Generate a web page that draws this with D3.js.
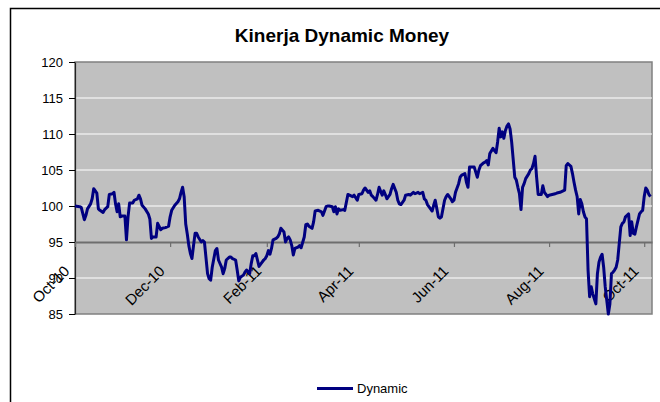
<!DOCTYPE html>
<html><head><meta charset="utf-8">
<script src="https://cdn.jsdelivr.net/npm/d3@7"></script>
<style>body{margin:0;background:#fff}svg{display:block;font-family:"Liberation Sans",Arial,sans-serif}</style>
</head><body><svg id="c" width="660" height="402"></svg>
<script>
const title = "Kinerja Dynamic Money";
const seriesName = "Dynamic";
const startDate = "2010-10-01";
const endDate = "2011-10-06";
const yTicks = [85, 90, 95, 100, 105, 110, 115, 120];
const xTickDates = ["2010-10-01","2010-12-01","2011-02-01","2011-04-01","2011-06-01","2011-08-01","2011-10-01"];
const axisCross = 95;
// days since startDate
const dayOffsets = [
0,3,4,6,7,8,10,11,12,14,15,16,18,19,21,22,24,25,26,27,
28,29,30,32,33,34,35,37,38,40,41,42,43,45,47,48,49,50,52,53,
55,56,58,60,61,62,64,66,67,68,69,70,71,72,73,74,75,76,77,78,
79,81,82,83,85,86,87,88,90,91,92,94,95,96,97,99,100,101,103,104,
105,106,108,109,110,112,113,114,115,116,117,118,120,121,122,123,124,125,126,127,
129,130,131,132,134,135,136,137,138,139,140,141,143,144,145,147,148,149,150,152,
153,154,156,157,158,159,161,162,163,165,166,167,168,169,170,172,173,175,176,178,
179,181,182,184,185,186,188,189,190,191,193,194,195,197,198,199,200,202,203,204,
206,207,208,209,211,212,214,215,217,218,220,221,223,224,225,226,228,229,230,231,
233,234,235,237,238,239,241,242,243,244,246,247,248,250,251,252,253,255,256,258,
259,260,262,263,264,265,266,268,269,270,271,272,273,274,275,276,277,278,279,280,
282,283,284,285,286,287,288,289,291,292,293,294,295,296,297,298,299,300,301,302,
303,304,306,308,309,311,313,314,315,316,318,319,320,321,322,323,324,325,326,327,
328,329,330,331,332,334,335,336,337,338,339,340,342,343,344,345,346,347,348,350,
351,352,353,355,356,357,358,359,360,362,363,364,365,366,367,368,369
];
const values = [
100.0,99.9,99.8,98.1,98.7,99.6,100.3,101.0,102.4,101.8,99.6,99.4,99.1,99.5,99.9,101.6,101.7,101.9,100.3,99.2,
100.3,98.5,98.6,98.6,95.3,98.5,100.4,100.4,100.8,101.0,101.5,101.0,100.1,99.6,98.9,98.2,95.5,95.7,95.7,97.6,
96.7,96.9,97.0,97.2,98.5,99.4,100.1,100.6,101.0,101.9,102.6,101.3,97.5,96.1,94.5,93.4,92.7,94.5,96.2,96.2,
95.7,95.0,95.2,95.0,90.6,89.9,89.7,91.5,93.8,94.1,92.5,91.5,90.6,91.3,92.5,92.9,92.9,92.7,92.5,91.1,
89.6,90.1,90.4,90.8,91.1,90.6,92.0,93.1,93.1,93.4,92.5,91.6,92.2,92.5,92.7,93.1,93.8,93.3,94.1,95.3,
95.5,95.7,96.1,96.9,96.4,95.0,95.5,95.7,95.3,94.5,93.2,94.1,94.3,94.5,94.2,95.7,97.4,97.5,97.2,96.9,
97.8,99.3,99.4,99.3,99.2,98.7,99.9,100.0,100.0,99.9,99.2,99.9,98.9,99.6,99.4,99.5,99.4,101.6,101.5,101.3,
101.5,100.8,101.6,101.7,102.2,102.5,101.9,102.1,101.5,101.3,100.8,101.6,102.6,101.5,102.1,101.6,101.0,101.6,102.4,103.0,
101.9,100.8,100.3,100.2,100.8,101.5,101.6,101.5,101.9,101.7,101.9,101.7,101.9,101.0,100.8,100.2,99.6,99.3,100.1,100.8,
98.5,98.3,98.5,100.8,101.3,101.6,101.0,100.6,100.8,101.9,103.1,104.0,104.3,104.5,103.3,102.6,105.4,105.4,105.4,104.0,
105.0,105.6,106.0,106.1,106.3,105.7,107.3,108.0,107.7,107.4,108.9,110.8,109.6,110.3,109.4,110.5,111.1,111.4,110.7,108.9,
104.0,103.6,102.6,101.7,99.5,102.6,103.1,103.8,104.5,105.0,105.2,105.9,106.9,104.0,101.6,101.6,101.6,102.8,101.9,101.6,
101.3,101.5,101.6,101.7,101.8,101.9,102.1,102.2,105.6,105.9,105.5,104.5,103.3,102.2,101.3,98.9,100.9,100.3,99.2,98.5,
98.2,91.1,87.4,88.8,87.8,86.4,90.6,92.2,92.9,93.3,91.5,88.8,85.0,86.4,90.6,90.8,91.1,91.5,92.5,97.1,
97.6,97.8,98.5,98.9,95.9,97.8,96.2,96.1,97.1,98.9,99.2,99.4,101.3,102.5,102.2,101.6,101.3
];

const parse = d3.utcParse("%Y-%m-%d");
const t0 = parse(startDate);
const data = dayOffsets.map((d, i) => ({date: d3.utcDay.offset(t0, d), value: values[i]}));

const svg = d3.select("#c");
const plot = {left: 75, right: 652, top: 62, bottom: 314};

// outer chart border
svg.append("rect").attr("x", 10.5).attr("y", 8.5).attr("width", 700).attr("height", 500)
  .attr("fill", "#fff").attr("stroke", "#000").attr("stroke-width", 1.5);

const x = d3.scaleUtc().domain([t0, parse(endDate)]).range([plot.left, plot.right]);
const y = d3.scaleLinear().domain([85, 120]).range([plot.bottom, plot.top]);

// plot background
svg.append("rect").attr("x", plot.left).attr("y", plot.top)
  .attr("width", plot.right - plot.left).attr("height", plot.bottom - plot.top)
  .attr("fill", "#c0c0c0").attr("stroke", "#808080").attr("stroke-width", 1.5);

// gridlines
svg.append("g").selectAll("line").data(yTicks.filter(v => v !== 85 && v !== 120 && v !== axisCross))
  .join("line")
  .attr("x1", plot.left).attr("x2", plot.right)
  .attr("y1", d => y(d)).attr("y2", d => y(d))
  .attr("stroke", "#ffffff").attr("stroke-width", 1.2);

// y axis
const yAxis = svg.append("g").attr("transform", `translate(${plot.left},0)`)
  .call(d3.axisLeft(y).tickValues(yTicks).tickSize(6).tickPadding(6).tickSizeOuter(0));
yAxis.select(".domain").attr("stroke", "#222").attr("stroke-width", 1.2);
yAxis.selectAll(".tick line").attr("stroke", "#000");
yAxis.selectAll("text").attr("font-size", 13).attr("fill", "#000")
  .style("font-family", '"Liberation Sans",Arial,sans-serif');

// x axis crossing at 95
const xAxis = svg.append("g").attr("transform", `translate(0,${y(axisCross)})`)
  .call(d3.axisBottom(x).tickValues(xTickDates.map(parse)).tickSize(5).tickSizeOuter(0)
    .tickFormat(d3.utcFormat("%b-%y")));
xAxis.select(".domain").attr("stroke", "#6e6e6e").attr("stroke-width", 2);
xAxis.selectAll(".tick line").attr("stroke", "#6e6e6e").attr("stroke-width", 1.2);
xAxis.selectAll(".tick text")
  .attr("font-size", 15).attr("fill", "#000")
  .style("font-family", '"Liberation Sans",Arial,sans-serif')
  .attr("text-anchor", "end").attr("dy", 0).attr("y", 0)
  .attr("transform", "translate(-5,30) rotate(-45)");

// series line
const line = d3.line().x(d => x(d.date)).y(d => y(d.value));
svg.append("path").datum(data).attr("d", line)
  .attr("fill", "none").attr("stroke", "#000080").attr("stroke-width", 3)
  .attr("stroke-linejoin", "round");

// title
svg.append("text").attr("x", 342).attr("y", 41.5).attr("text-anchor", "middle")
  .attr("font-size", 19).attr("font-weight", "bold").attr("fill", "#000").text(title);

// legend
const lg = svg.append("g").attr("transform", "translate(317,388.5)");
lg.append("line").attr("x1", 0).attr("x2", 36).attr("y1", 0).attr("y2", 0)
  .attr("stroke", "#000080").attr("stroke-width", 3);
lg.append("text").attr("x", 40).attr("y", 4.5).attr("font-size", 13).attr("fill", "#000").text(seriesName);
</script>
</body></html>
